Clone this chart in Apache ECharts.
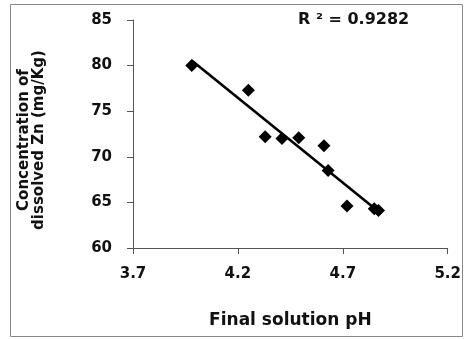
<!DOCTYPE html>
<html>
<head>
<meta charset="utf-8">
<script src="https://cdn.jsdelivr.net/npm/echarts@6/dist/echarts.min.js"></script>
<style>
  html, body { margin: 0; padding: 0; background: #fff; }
  #chart { width: 464px; height: 339px; }
</style>
</head>
<body>
<div id="chart"></div>
<script>
// Data
const phValues = [3.98, 4.25, 4.33, 4.41, 4.49, 4.61, 4.63, 4.72, 4.85, 4.87];
const znValues = [80.0, 77.3, 72.2, 72.0, 72.1, 71.2, 68.5, 64.6, 64.3, 64.1];
const xTicks = [3.7, 4.2, 4.7, 5.2];
const yTicks = [60, 65, 70, 75, 80, 85];
const xTitle = 'Final solution pH';
const yTitle = 'Concentration of\ndissolved Zn (mg/Kg)';
const r2Label = 'R ² = 0.9282';

// Least-squares trend line derived from the data
const n = phValues.length;
const mx = phValues.reduce((a, b) => a + b, 0) / n;
const my = znValues.reduce((a, b) => a + b, 0) / n;
let sxy = 0, sxx = 0;
for (let i = 0; i < n; i++) {
  sxy += (phValues[i] - mx) * (znValues[i] - my);
  sxx += (phValues[i] - mx) * (phValues[i] - mx);
}
const slope = sxy / sxx;
const intercept = my - slope * mx;
const xMin = Math.min(...phValues), xMax = Math.max(...phValues);
const trend = [[xMin, intercept + slope * xMin], [xMax, intercept + slope * xMax]];

const scatterData = phValues.map((x, i) => [x, znValues[i]]);
const font = 'DejaVu Sans';

const chart = echarts.init(document.getElementById('chart'), null, { renderer: 'canvas' });
chart.setOption({
  animation: false,
  backgroundColor: '#ffffff',
  grid: { left: 133, right: 11, top: 20, bottom: 91, containLabel: false },
  xAxis: {
    type: 'value',
    min: xTicks[0], max: xTicks[xTicks.length - 1], interval: 0.5,
    splitLine: { show: false },
    axisLine: { show: true, lineStyle: { color: '#555', width: 1 } },
    axisTick: { show: true, inside: false, length: 6, lineStyle: { color: '#555' } },
    axisLabel: { margin: 19, color: '#111', fontFamily: font, fontWeight: 'bold', fontSize: 15,
      formatter: v => v.toFixed(1) },
    name: xTitle, nameLocation: 'middle', nameGap: 64,
    nameTextStyle: { fontFamily: font, fontWeight: 'bold', fontSize: 17, color: '#111' }
  },
  yAxis: {
    type: 'value',
    min: yTicks[0], max: yTicks[yTicks.length - 1], interval: 5,
    splitLine: { show: false },
    axisLine: { show: true, lineStyle: { color: '#555', width: 1 } },
    axisTick: { show: true, inside: false, length: 6, lineStyle: { color: '#555' } },
    axisLabel: { margin: 21, color: '#111', fontFamily: font, fontWeight: 'bold', fontSize: 15 },
    name: yTitle, nameLocation: 'middle', nameRotate: 90, nameGap: 86,
    nameTextStyle: { fontFamily: font, fontWeight: 'bold', fontSize: 15, color: '#111',
      lineHeight: 15, padding: [0, 12, 0, 0] }
  },
  series: [
    {
      type: 'line', data: trend, symbol: 'none', silent: true,
      lineStyle: { color: '#000', width: 2.6 }, z: 2
    },
    {
      type: 'scatter', data: scatterData, symbol: 'diamond', symbolSize: 13,
      itemStyle: { color: '#000', opacity: 1 }, z: 3
    }
  ],
  graphic: [
    { type: 'rect', shape: { x: 10.5, y: 4.5, width: 452, height: 332 },
      style: { fill: 'none', stroke: '#888', lineWidth: 1 }, silent: true, z: -1 },
    { type: 'text', x: 298, y: 12,
      style: { text: r2Label, fontFamily: font, fontWeight: 'bold', fontSize: 16, fill: '#111' } }
  ]
});
</script>
</body>
</html>
